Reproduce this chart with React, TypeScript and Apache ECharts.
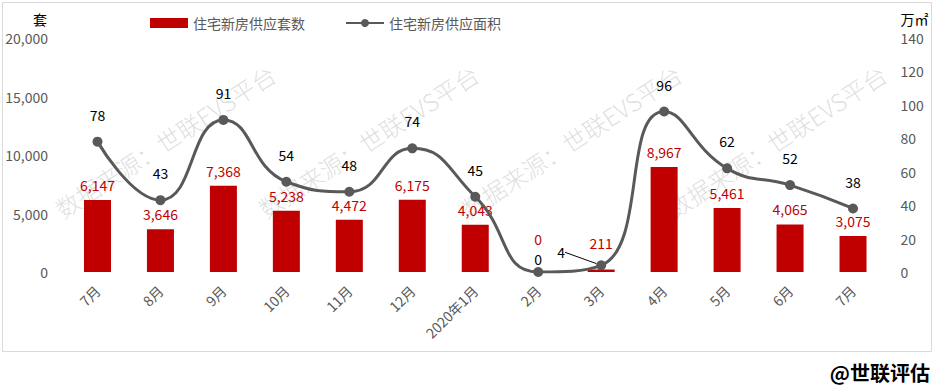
import React, { useEffect, useRef } from "react";
import * as echarts from "echarts";

const categories = ["7月", "8月", "9月", "10月", "11月", "12月", "2020年1月", "2月", "3月", "4月", "5月", "6月", "7月"];
const supplyUnits = [6147, 3646, 7368, 5238, 4472, 6175, 4043, 0, 211, 8967, 5461, 4065, 3075];
const supplyArea = [78, 43, 91, 54, 48, 74, 45, 0, 4, 96, 62, 52, 38];
const leftTicks = { min: 0, max: 20000, interval: 5000 };
const rightTicks = { min: 0, max: 140, interval: 20 };
const watermarkText = "数据来源：世联EVS平台";

const FONT = "'Noto Sans CJK SC', 'Noto Sans', sans-serif";
const GRAY = "#595959";
const RED = "#c00000";

export default function App() {
  const ref = useRef<HTMLDivElement>(null);
  useEffect(() => {
    document.body.style.margin = "0";
    const chart = echarts.init(ref.current!, null, { renderer: "svg" });
    const wmX = [165, 368, 571, 776];
    chart.setOption({
      animation: false,
      backgroundColor: "#ffffff",
      textStyle: { fontFamily: FONT },
      legend: {
        left: 145,
        top: 11,
        itemGap: 40,
        itemWidth: 38,
        itemHeight: 10,
        textStyle: { color: GRAY, fontSize: 14, fontFamily: FONT },
        data: [
          { name: "住宅新房供应套数", icon: "rect", itemStyle: { color: RED } },
          { name: "住宅新房供应面积" },
        ],
      },
      grid: { left: 66, right: 50.5, top: 38, bottom: 113, containLabel: false },
      xAxis: {
        type: "category",
        data: categories,
        axisLine: { show: false },
        axisTick: { show: false },
        axisLabel: { rotate: 45, color: GRAY, fontSize: 14, margin: 16, interval: 0, fontFamily: FONT },
      },
      yAxis: [
        {
          type: "value",
          ...leftTicks,
          name: "套",
          nameLocation: "end",
          nameGap: 12,
          nameTextStyle: { color: "#000", fontSize: 14, align: "right", padding: [0, 19, 0, 0], fontFamily: FONT },
          axisLine: { show: false },
          axisTick: { show: false },
          splitLine: { show: false },
          axisLabel: {
            color: GRAY,
            fontSize: 14,
            margin: 18,
            fontFamily: FONT,
            formatter: (v: number) => v.toLocaleString("en-US"),
          },
        },
        {
          type: "value",
          ...rightTicks,
          name: "万㎡",
          nameLocation: "end",
          nameGap: 12,
          nameTextStyle: { color: "#000", fontSize: 14, align: "left", padding: [0, 0, 0, 16], fontFamily: FONT },
          axisLine: { show: false },
          axisTick: { show: false },
          splitLine: { show: false },
          axisLabel: { color: GRAY, fontSize: 14, margin: 16, fontFamily: FONT },
        },
      ],
      series: [
        {
          name: "住宅新房供应套数",
          type: "bar",
          yAxisIndex: 0,
          barWidth: 27,
          itemStyle: { color: RED },
          z: 2,
          data: supplyUnits.map((v, i) =>
            v < 500 ? { value: v, label: { offset: [0, i === 7 ? -18 : -12] } } : v
          ),
          label: {
            show: true,
            position: "top",
            distance: 8,
            color: RED,
            fontSize: 14,
            fontFamily: FONT,
            formatter: (p: any) => Number(p.value).toLocaleString("en-US"),
          },
        },
        {
          name: "住宅新房供应面积",
          type: "line",
          yAxisIndex: 1,
          smooth: 0.5,
          symbol: "circle",
          symbolSize: 10,
          z: 3,
          lineStyle: { color: GRAY, width: 3 },
          itemStyle: { color: GRAY },
          data: supplyArea.map((v, i) => {
            if (i === 7) return { value: v, label: { distance: 1 } };
            if (i === 8) return { value: v, labelLine: { show: true, lineStyle: { color: "#000", width: 1 } } };
            return v;
          }),
          label: {
            show: true,
            position: "top",
            distance: 15,
            color: "#000",
            fontSize: 14,
            fontFamily: FONT,
          },
          labelLine: { show: false },
          labelLayout: (p: any) => (p.dataIndex === 8 ? { dx: -40, dy: 14 } : {}),
        },
      ],
      graphic: [
        {
          type: "rect",
          shape: { x: 2.5, y: 2.5, width: 929, height: 349 },
          style: { fill: "none", stroke: "#d9d9d9", lineWidth: 1 },
          silent: true,
          z: -10,
        },
        ...wmX.map((x) => ({
          type: "text",
          x,
          y: 141,
          rotation: (33 * Math.PI) / 180,
          silent: true,
          z: 1,
          style: {
            text: watermarkText,
            fontSize: 24,
            fontFamily: FONT,
            fontWeight: 300,
            fill: "rgba(160,160,160,0.35)",
            align: "center",
            verticalAlign: "middle",
          },
        })),
        {
          type: "text",
          x: 930,
          y: 372,
          style: {
            text: "@世联评估",
            fontSize: 20,
            fontWeight: "bold",
            fontFamily: FONT,
            fill: "#000",
            align: "right",
            verticalAlign: "middle",
          },
        },
      ],
    });
    return () => chart.dispose();
  }, []);
  return <div ref={ref} style={{ width: 935, height: 385 }} />;
}
